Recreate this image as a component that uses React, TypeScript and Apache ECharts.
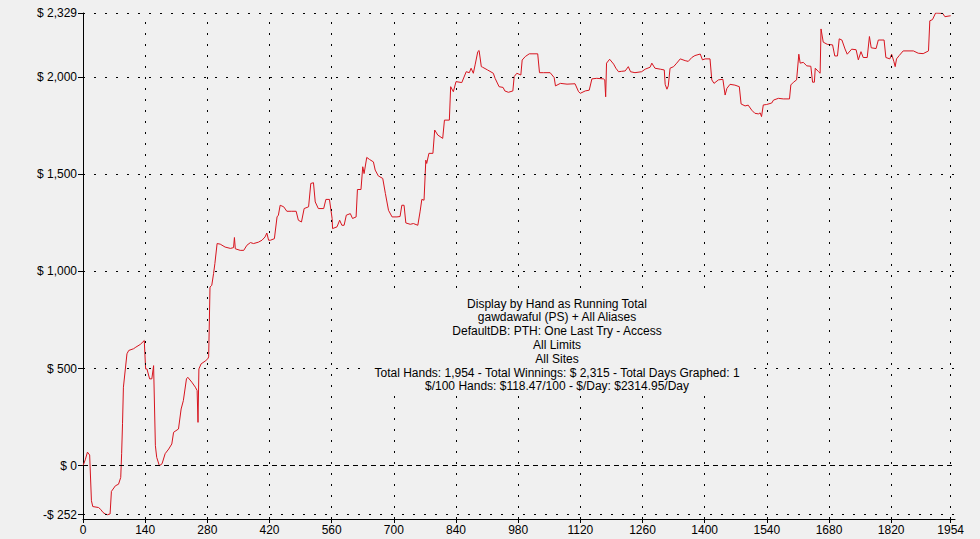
import React, { useEffect, useRef } from "react";
import * as echarts from "echarts";

const hands: number[] = [
  0, 5, 10, 15, 19, 22, 35, 40, 45, 50, 55, 61, 64, 73, 80, 85, 87, 89, 91, 99,
  103, 114, 119, 129, 138, 141, 144, 150, 155, 159, 163, 166, 172, 178, 185, 193, 200, 204, 215, 221,
  226, 233, 236, 245, 253, 257, 259, 261, 266, 275, 281, 283, 286, 290, 294, 297, 302, 309, 320, 332,
  339, 341, 343, 354, 362, 369, 377, 384, 395, 403, 410, 414, 418, 422, 431, 437, 440, 444, 452, 459,
  470, 480, 485, 492, 498, 508, 513, 519, 523, 530, 542, 547, 555, 561, 562, 572, 578, 583, 588, 593,
  602, 607, 615, 618, 626, 630, 633, 639, 645, 654, 658, 665, 675, 681, 688, 696, 707, 714, 718, 723,
  727, 737, 744, 754, 759, 763, 768, 772, 774, 779, 788, 792, 799, 810, 814, 825, 828, 834, 840, 853,
  863, 870, 874, 879, 883, 889, 892, 897, 900, 911, 924, 928, 937, 946, 950, 958, 968, 971, 977, 986,
  989, 996, 1005, 1024, 1028, 1037, 1052, 1061, 1064, 1075, 1090, 1108, 1116, 1120, 1131, 1140, 1146, 1157, 1172, 1175,
  1177, 1179, 1186, 1195, 1200, 1206, 1213, 1221, 1228, 1233, 1243, 1258, 1266, 1277, 1281, 1288, 1300, 1309, 1311, 1315,
  1318, 1322, 1330, 1337, 1345, 1356, 1363, 1371, 1378, 1390, 1395, 1401, 1412, 1416, 1421, 1431, 1441, 1446, 1450, 1457,
  1468, 1478, 1482, 1491, 1498, 1506, 1513, 1521, 1525, 1528, 1532, 1539, 1551, 1555, 1566, 1577, 1591, 1594, 1600, 1607,
  1612, 1615, 1622, 1630, 1639, 1643, 1647, 1649, 1656, 1660, 1662, 1667, 1676, 1688, 1693, 1699, 1703, 1709, 1716, 1721,
  1731, 1741, 1746, 1752, 1757, 1766, 1771, 1775, 1786, 1791, 1804, 1808, 1817, 1821, 1826, 1829, 1832, 1838, 1847, 1870,
  1881, 1892, 1904, 1907, 1913, 1920, 1936, 1941, 1954,
];

const totals: number[] = [
  0, 30, 70, 55, -180, -210, -215, -225, -240, -248, -252, -248, -132, -103, -95, -60, 62, 216, 404, 576,
  593, 602, 610, 624, 644, 498, 498, 447, 447, 515, 103, 43, 0, 10, 62, 86, 112, 172, 189, 292,
  335, 447, 455, 430, 404, 387, 223, 498, 524, 538, 550, 560, 919, 928, 988, 1040, 1143, 1140, 1125, 1118,
  1122, 1174, 1116, 1108, 1108, 1134, 1148, 1143, 1150, 1160, 1177, 1197, 1160, 1160, 1168, 1280, 1289, 1340, 1332, 1309,
  1309, 1309, 1263, 1254, 1323, 1332, 1452, 1456, 1357, 1323, 1323, 1370, 1370, 1272, 1220, 1229, 1263, 1237, 1237, 1289,
  1297, 1272, 1280, 1421, 1421, 1538, 1503, 1586, 1576, 1563, 1521, 1491, 1478, 1400, 1314, 1280, 1280, 1282, 1340, 1340,
  1249, 1242, 1246, 1237, 1306, 1370, 1366, 1572, 1555, 1607, 1607, 1727, 1701, 1684, 1778, 1778, 1950, 1924, 1976, 1971,
  2027, 2022, 2045, 2019, 2062, 2130, 2136, 2053, 2050, 2036, 2019, 1993, 1950, 1946, 1928, 1921, 1928, 2002, 2019, 2010,
  2087, 2105, 2119, 2119, 2022, 2022, 2022, 1997, 1954, 1967, 1963, 1965, 1924, 1916, 1928, 1932, 1990, 1993, 1990, 1985,
  1898, 2071, 2091, 2066, 2045, 2027, 2029, 2031, 2053, 2027, 2022, 2027, 2040, 2050, 2071, 2045, 2040, 2036, 1962, 1937,
  1954, 2045, 2053, 2071, 2093, 2084, 2080, 2100, 2110, 2118, 2088, 2093, 2093, 1985, 1967, 1985, 1988, 1907, 1941, 1962,
  1958, 1950, 1861, 1851, 1855, 1829, 1813, 1810, 1815, 1796, 1856, 1858, 1866, 1881, 1890, 1887, 1887, 1959, 1973, 1985,
  2117, 2071, 2075, 2057, 2055, 1973, 1973, 2045, 2028, 2019, 2247, 2179, 2168, 2165, 2108, 2108, 2196, 2190, 2144, 2117,
  2143, 2140, 2088, 2130, 2100, 2100, 2208, 2150, 2146, 2190, 2190, 2100, 2093, 2117, 2080, 2053, 2093, 2110, 2134, 2134,
  2122, 2120, 2134, 2289, 2295, 2329, 2327, 2310, 2315,
];

const xTicks: number[] = [0, 140, 280, 420, 560, 700, 840, 980, 1120, 1260, 1400, 1540, 1680, 1820, 1954];
const yTicks: number[] = [-252, 0, 500, 1000, 1500, 2000, 2329];

const infoLines: string[] = [
  "Display by Hand as Running Total",
  "gawdawaful (PS) + All Aliases",
  "DefaultDB: PTH: One Last Try - Access",
  "All Limits",
  "All Sites",
  "Total Hands: 1,954 - Total Winnings: $ 2,315 - Total Days Graphed: 1",
  "$/100 Hands: $118.47/100 - $/Day: $2314.95/Day",
];

const FONT = "'Liberation Sans', Arial, sans-serif";

function fmtMoney(v: number): string {
  const a = Math.abs(v).toLocaleString("en-US");
  return (v < 0 ? "-$ " : "$ ") + a;
}

export default function App() {
  const ref = useRef<HTMLDivElement>(null);
  useEffect(() => {
    if (!ref.current) return;
    const chart = echarts.init(ref.current, null, { renderer: "svg" });
    const data = hands.map((h, i) => [h, totals[i]]);
    const dotted = { color: "#000", width: 1, type: [2, 9] as any, opacity: 1 };
    const dashed = { color: "#000", width: 1, type: [5, 4] as any, opacity: 1 };
    const gridData: any[] = [
      ...xTicks.filter((v) => v !== 0).map((v) => ({ xAxis: v, lineStyle: dotted })),
      ...yTicks.map((v) => ({ yAxis: v, lineStyle: v === 0 ? dashed : dotted })),
    ];
    chart.setOption({
      animation: false,
      backgroundColor: "#f0f0f0",
      textStyle: { fontFamily: FONT },
      grid: { left: 83, right: 25, top: 13, bottom: 20, containLabel: false },
      xAxis: {
        type: "value",
        min: 0,
        max: 1963.7,
        axisLine: { show: true, onZero: false, lineStyle: { color: "#000", width: 1 } },
        axisTick: { show: true, length: 4, customValues: xTicks, lineStyle: { color: "#000" } },
        axisLabel: {
          customValues: xTicks,
          color: "#000",
          fontSize: 12,
          fontFamily: FONT,
          margin: 5,
          formatter: (v: number) => String(v),
        },
        splitLine: { show: false },
      },
      yAxis: {
        type: "value",
        min: -274,
        max: 2329,
        axisLine: { show: true, onZero: false, lineStyle: { color: "#000", width: 1 } },
        axisTick: { show: true, length: 5, customValues: yTicks, lineStyle: { color: "#000" } },
        axisLabel: {
          customValues: yTicks,
          color: "#000",
          fontSize: 12,
          fontFamily: FONT,
          margin: 6,
          formatter: (v: number) => fmtMoney(v),
        },
        splitLine: { show: false },
      },
      graphic: [
        {
          type: "rect",
          z: 90,
          shape: { x: 368, y: 294, width: 378, height: 100 },
          style: { fill: "#f0f0f0" },
          silent: true,
        },
        ...infoLines.map((t, i) => ({
          type: "text",
          x: 557,
          y: 303.5 + i * 13.8,
          z: 100,
          style: {
            text: t,
            fill: "#000",
            font: `12px ${FONT}`,
            textAlign: "center",
            textVerticalAlign: "middle",
          },
        })),
      ],
      series: [
        {
          type: "line",
          z: 1,
          data: data,
          symbol: "none",
          silent: true,
          lineStyle: { opacity: 0 },
          markLine: {
            silent: true,
            symbol: ["none", "none"],
            label: { show: false },
            animation: false,
            data: gridData,
          },
        },
        {
          type: "line",
          z: 3,
          data: data,
          symbol: "none",
          showSymbol: false,
          lineStyle: { color: "#d7141e", width: 1 },
        },
      ],
    });
    return () => chart.dispose();
  }, []);
  return (
    <div
      ref={ref}
      style={{ position: "fixed", left: 0, top: 0, width: 980, height: 539, background: "#f0f0f0" }}
    />
  );
}
